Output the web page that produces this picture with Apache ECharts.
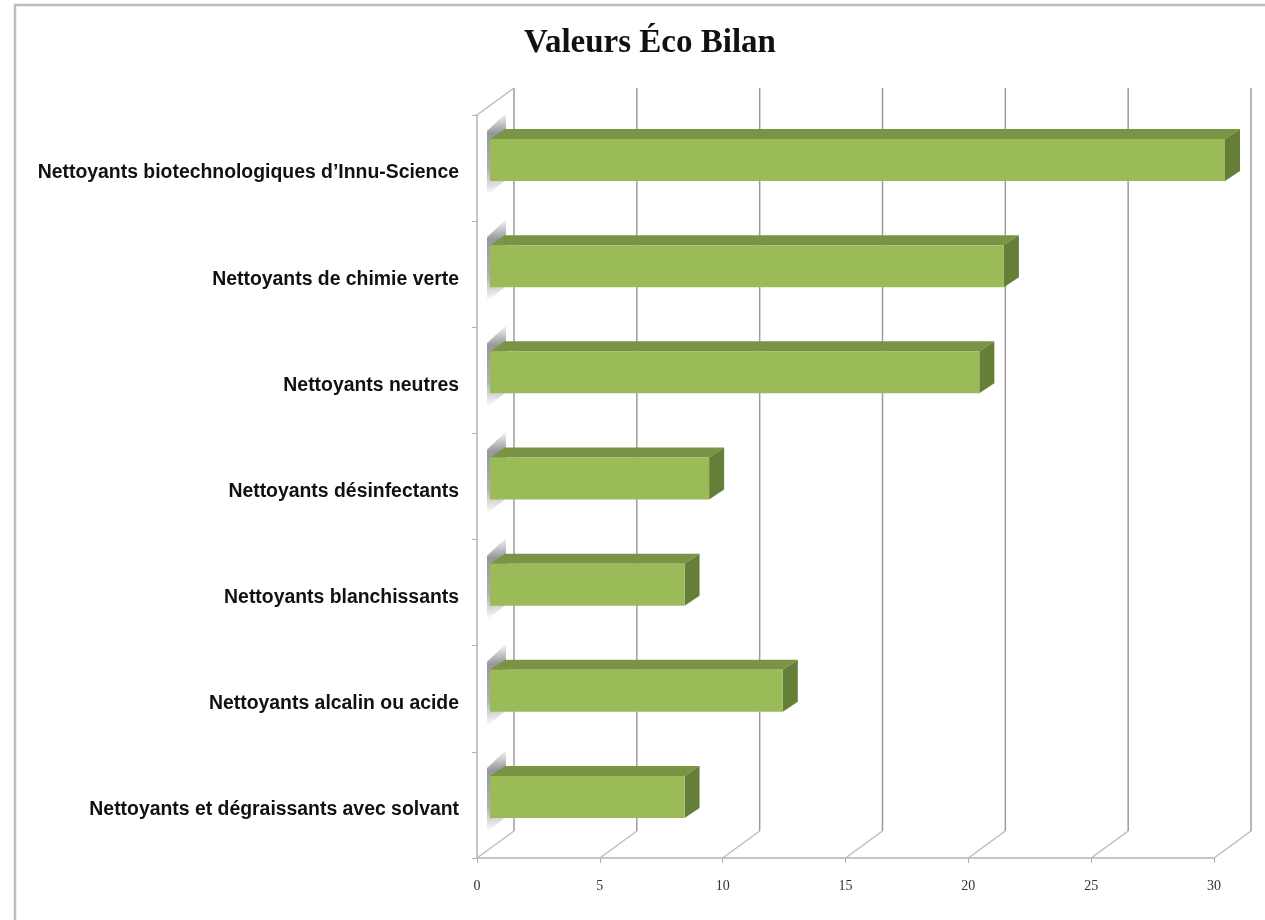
<!DOCTYPE html>
<html>
<head>
<meta charset="utf-8">
<title>Valeurs Éco Bilan</title>
<script src="https://cdn.jsdelivr.net/npm/echarts@6/dist/echarts.min.js"></script>
<style>
  html, body { margin: 0; padding: 0; background: #fff; }
  #chart { width: 1265px; height: 920px; filter: blur(0.5px); }
</style>
</head>
<body>
<div id="chart"></div>
<script>
const categories = [
  'Nettoyants biotechnologiques d’Innu-Science',
  'Nettoyants de chimie verte',
  'Nettoyants neutres',
  'Nettoyants désinfectants',
  'Nettoyants blanchissants',
  'Nettoyants alcalin ou acide',
  'Nettoyants et dégraissants avec solvant'
];
const values = [30, 21, 20, 9, 8, 12, 8];
const xTicks = [0, 5, 10, 15, 20, 25, 30];

// fake 3D offsets, in px
const wallDx = 37, wallDy = -27;
const barDx = 11, barDy = -8, barH = 42;
const sideDx = 15, sideDy = -10;

const chart = echarts.init(document.getElementById('chart'));

function poly(points, fill) {
  return { type: 'polygon', shape: { points: points }, style: { fill: fill } };
}

function renderWall(params, api) {
  const sys = params.coordSys;
  const x = api.coord([api.value(0), 0])[0];
  const bottom = sys.y + sys.height, top = sys.y;
  const children = [
    { type: 'line', shape: { x1: x, y1: bottom, x2: x + wallDx, y2: bottom + wallDy },
      style: { stroke: '#bdbdbd', lineWidth: 1.5 } },
    { type: 'line', shape: { x1: x + wallDx, y1: top + wallDy, x2: x + wallDx, y2: bottom + wallDy },
      style: { stroke: '#9c9c9c', lineWidth: 1.5 } }
  ];
  if (params.dataIndex === 0) {
    children.push({ type: 'line', shape: { x1: x, y1: top, x2: x + wallDx, y2: top + wallDy },
      style: { stroke: '#bdbdbd', lineWidth: 1.5 } });
  }
  return { type: 'group', children: children };
}

function renderBar(params, api) {
  const start = api.coord([0, api.value(1)]);
  const end = api.coord([api.value(0), api.value(1)]);
  const x0 = start[0] + 13, x1 = end[0] + barDx;
  const y0 = start[1] + barDy - barH / 2, y1 = y0 + barH;
  const shadow = new echarts.graphic.LinearGradient(0, 0, 0.25, 1, [
    { offset: 0, color: 'rgba(125,125,130,0)' },
    { offset: 0.25, color: 'rgba(125,125,130,0.8)' },
    { offset: 0.7, color: 'rgba(125,125,130,0.6)' },
    { offset: 1, color: 'rgba(125,125,130,0)' }
  ]);
  return {
    type: 'group',
    children: [
      poly([[x0 - 3, y0 - 8], [x0 + sideDx + 1, y0 - 26], [x0 + sideDx + 1, y1 - 1], [x0 - 3, y1 + 14]], shadow),
      poly([[x0, y0], [x0 + sideDx, y0 + sideDy], [x1 + sideDx, y0 + sideDy], [x1, y0]], '#7a9445'),
      poly([[x1, y0], [x1 + sideDx, y0 + sideDy], [x1 + sideDx, y1 + sideDy], [x1, y1]], '#667f38'),
      { type: 'rect', shape: { x: x0, y: y0, width: x1 - x0, height: barH }, style: { fill: '#9bbb59' } }
    ]
  };
}

chart.setOption({
  animation: false,
  backgroundColor: '#fff',
  title: {
    text: 'Valeurs Éco Bilan',
    left: 645,
    top: 22,
    textAlign: 'center',
    textStyle: { fontFamily: 'Liberation Serif', fontWeight: 'bold', fontSize: 33, color: '#111' }
  },
  grid: { left: 477, top: 115, width: 737, height: 743 },
  xAxis: {
    type: 'value',
    min: 0,
    max: 30,
    interval: 5,
    splitLine: { show: false },
    axisLine: { show: true, lineStyle: { color: '#c6c6c6', width: 2 } },
    axisTick: { show: true, length: 5, lineStyle: { color: '#b0b0b0' } },
    axisLabel: { margin: 21, fontFamily: 'Liberation Serif', fontSize: 14, color: '#333',
      customValues: xTicks }
  },
  yAxis: {
    type: 'category',
    inverse: true,
    data: categories,
    axisLine: { show: true, lineStyle: { color: '#c6c6c6', width: 2 } },
    axisTick: { show: true, length: 5, lineStyle: { color: '#b0b0b0' } },
    axisLabel: { margin: 18, fontFamily: 'Liberation Sans', fontWeight: 'bold', fontSize: 19.4,
      color: '#111', verticalAlign: 'top', lineHeight: 10 }
  },
  series: [
    { type: 'custom', name: 'wall', silent: true, clip: false, z: 1,
      encode: { x: 0, y: 1 }, renderItem: renderWall,
      data: xTicks.map(t => [t, 0]) },
    { type: 'custom', name: 'Valeurs', silent: true, clip: false, z: 2,
      encode: { x: 0, y: 1 }, renderItem: renderBar,
      data: values.map((v, i) => [v, i]) }
  ],
  graphic: [
    { type: 'polyline', silent: true, shape: { points: [[15, 920], [15, 5], [1265, 5]] },
      style: { stroke: '#bcbcbc', lineWidth: 2.5, fill: null } }
  ]
});
</script>
</body>
</html>
